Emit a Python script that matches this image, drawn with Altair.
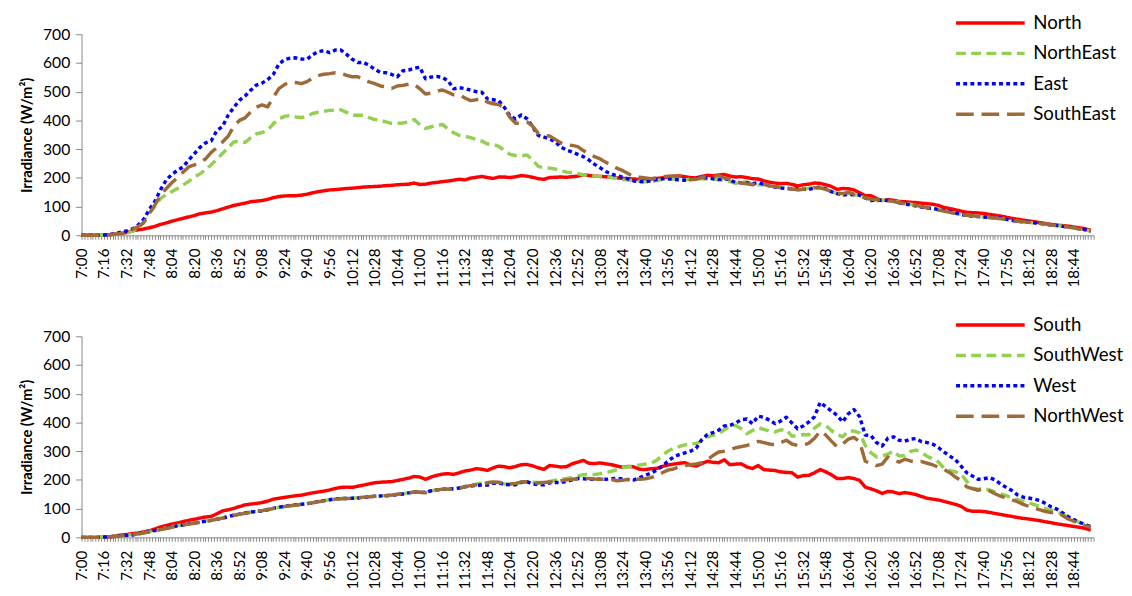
import altair as alt
import pandas as pd

# sample times: minutes after 7:00, every 4 minutes (7:00 ... 18:56)
minutes = list(range(0, 720, 4))

# ---------- top panel ----------
north = [0,0,0,0,1,2,4,6,10,15,19,22,26,31,38,
         43,49,54,59,64,69,75,78,81,86,92,98,104,108,112,
         117,119,121,125,131,135,137,138,138,140,143,148,152,155,158,
         159,161,163,164,166,168,169,170,171,173,174,176,177,178,182,
         177,178,182,184,187,189,192,195,193,199,202,205,201,198,203,
         203,201,204,208,206,202,197,195,201,202,203,202,204,206,211,
         208,206,205,204,202,200,198,197,196,195,196,196,198,200,203,
         205,207,204,201,200,205,209,207,210,212,206,203,204,201,197,
         196,190,185,182,180,181,177,172,176,178,182,181,176,170,160,
         163,162,158,148,138,138,128,121,124,122,118,117,115,114,112,
         110,108,104,97,93,89,84,80,79,78,76,73,70,67,63,
         59,56,53,50,47,44,41,38,35,34,32,29,26,23,17]

north_east = [0,0,0,0,1,2,3,5,8,14,25,45,78,100,128,
              142,152,163,175,188,202,214,228,246,265,285,305,325,328,323,
              340,353,358,365,388,405,414,417,412,410,415,424,429,432,435,
              436,437,428,418,418,418,410,403,400,395,390,390,391,395,403,
              385,372,378,383,386,370,357,348,345,340,334,328,318,317,310,
              295,282,278,276,280,262,240,235,234,231,225,220,218,215,211,
              207,206,205,204,202,198,194,192,190,188,186,188,191,194,196,
              197,195,193,196,197,197,196,195,194,190,187,181,184,186,178,
              175,177,175,170,167,164,161,160,162,164,167,166,160,152,146,
              145,146,142,136,130,125,119,123,122,119,115,111,108,104,100,
              96,92,88,85,80,76,73,70,68,66,64,62,60,58,55,
              52,49,47,45,43,41,39,36,34,32,29,26,22,19,15]

east = [0,0,0,0,1,3,6,11,15,22,35,55,89,118,158,
        192,212,226,238,262,284,306,322,329,365,379,418,445,470,485,
        505,523,530,542,560,596,612,617,618,614,613,629,640,643,636,
        645,645,630,613,602,602,592,578,567,566,560,552,573,575,582,
        585,545,551,553,550,538,510,514,511,505,500,498,475,472,468,
        445,415,405,419,406,378,348,342,336,326,307,297,290,282,274,
        262,247,235,222,213,207,202,196,189,187,186,190,194,197,197,
        195,193,192,195,198,200,200,197,194,198,192,184,183,182,180,
        183,178,172,168,165,163,162,161,160,160,165,168,162,152,145,
        140,142,141,140,130,121,122,122,121,119,113,109,106,102,98,
        95,93,90,86,82,78,72,69,67,65,64,62,61,60,56,
        52,49,47,46,44,42,39,36,34,31,29,26,23,19,15]

south_east = [0,0,0,0,1,2,4,6,12,20,30,43,75,105,140,
              162,183,200,220,238,245,255,266,289,305,325,345,380,400,409,
              430,446,454,447,480,511,525,533,532,528,535,548,556,561,563,
              566,565,557,552,552,543,534,528,520,517,511,520,522,526,526,
              510,492,495,502,506,498,489,490,478,469,472,477,464,458,455,
              443,410,390,390,395,380,355,348,346,334,322,315,313,309,295,
              283,274,266,254,243,233,225,214,204,202,200,197,200,203,206,
              207,206,200,193,195,202,203,204,208,200,195,190,182,179,176,
              180,178,172,170,166,164,161,158,160,162,166,165,160,153,147,
              145,150,143,138,130,126,124,122,120,118,113,110,107,104,100,
              96,93,88,84,80,76,72,70,68,66,64,62,60,58,55,
              52,49,47,45,43,41,39,36,34,31,29,26,22,19,15]

# ---------- bottom panel ----------
south = [0,0,0,0,1,2,5,8,10,13,15,19,23,29,36,
         41,46,50,55,59,63,67,71,73,82,92,96,101,107,113,
         116,118,121,126,133,136,139,142,145,147,151,155,158,161,165,
         170,174,175,174,178,182,186,190,192,193,194,198,202,206,212,
         210,202,210,216,220,222,219,225,231,234,239,237,233,242,248,
         246,242,247,253,254,249,242,237,250,248,245,246,256,262,268,
         258,257,259,256,253,248,244,247,245,237,236,239,240,247,252,
         255,258,260,252,248,257,265,261,260,270,253,255,256,245,240,
         250,236,234,233,228,226,225,210,215,216,225,236,228,218,205,
         205,208,205,198,175,169,162,153,160,158,152,156,153,149,142,
         136,133,130,125,120,115,108,95,91,91,90,87,83,80,76,
         73,69,66,64,61,58,54,51,47,44,41,38,35,31,25]

south_west = [0,0,0,0,1,2,4,6,8,9,12,16,20,24,28,
              33,37,41,44,48,51,54,57,60,64,68,73,77,81,85,
              88,91,93,97,101,105,108,111,113,116,118,121,125,128,131,
              134,135,136,137,138,140,142,143,145,146,148,150,152,155,159,
              157,157,162,166,168,168,170,173,177,181,185,190,191,191,189,
              186,185,187,191,193,192,191,191,195,199,202,205,209,214,218,
              219,219,222,226,230,236,243,246,249,252,255,258,268,285,300,
              310,316,322,325,327,336,350,355,359,375,386,390,378,361,372,
              382,376,370,367,374,375,352,355,358,357,380,395,390,372,358,
              350,370,370,364,320,295,280,283,290,300,283,285,299,304,295,
              282,273,262,240,232,228,220,195,170,168,170,165,158,151,145,
              138,131,126,120,114,106,100,95,89,80,70,60,52,45,38]

west = [0,0,0,0,1,2,4,6,7,8,12,16,20,24,28,
        32,36,40,43,47,50,53,56,59,63,67,72,77,81,85,
        88,90,92,96,101,105,108,111,113,115,117,120,125,128,131,
        134,135,135,136,137,139,141,143,144,145,147,148,151,155,158,
        156,157,162,165,168,168,169,172,176,179,181,182,182,188,190,
        184,183,183,192,194,186,183,183,190,191,191,195,200,205,204,
        202,202,202,202,204,206,203,201,200,208,216,224,234,248,265,
        280,288,294,300,310,340,358,365,373,388,390,398,410,412,396,
        422,418,408,396,405,418,398,378,388,402,420,470,455,440,425,
        402,430,445,420,356,355,330,318,345,350,338,335,342,344,333,
        330,324,312,297,283,270,248,225,214,202,204,208,200,186,174,
        163,148,140,137,133,128,118,106,98,85,72,62,52,45,36]

north_west = [0,0,0,0,1,2,3,5,7,9,12,15,19,23,27,
              31,35,39,43,46,49,52,55,59,63,67,72,76,80,84,
              87,90,93,96,100,104,107,110,112,114,117,120,124,127,130,
              133,134,135,136,138,140,141,143,144,145,147,150,152,155,158,
              157,155,160,165,168,168,167,170,176,180,183,185,190,193,192,
              188,186,188,193,194,191,189,191,193,194,197,200,202,203,204,
              205,203,202,202,201,197,199,202,203,202,204,208,215,225,234,
              238,246,250,253,256,260,270,285,297,300,305,312,316,320,327,
              334,330,325,322,330,338,325,320,321,328,345,370,356,335,315,
              325,342,348,333,265,258,250,255,280,270,262,272,266,262,264,
              258,252,244,236,225,210,197,176,170,164,170,162,152,143,138,
              131,124,115,108,102,96,90,86,88,76,64,56,48,41,35]

top_names = ["North", "NorthEast", "East", "SouthEast"]
bottom_names = ["South", "SouthWest", "West", "NorthWest"]
colors = ["#FF0000", "#92D050", "#0000FF", "#9E6A38"]
dashes = [[1, 0], [10, 5.5], [4, 3.3], [18, 8]]
widths = [3.5, 3.5, 4, 3.5]

FONT = "Lato"
label_expr = ("datum.value % 16 == 0 ? (7 + floor(datum.value / 60)) + ':' + "
              "(datum.value % 60 < 10 ? '0' : '') + (datum.value % 60) : ''")


def panel(names, series, legend_y):
    rows = []
    for name, vals in zip(names, series):
        for m, v in zip(minutes, vals):
            rows.append({"m": m, "v": v, "s": name})
    df = pd.DataFrame(rows)
    leg = alt.Legend(title=None, orient="none", legendX=890, legendY=legend_y,
                     symbolType="M-1,0L7,0", symbolSize=306, symbolStrokeWidth=4,
                     labelFontSize=19, labelFont=FONT, labelColor="#000000",
                     rowPadding=10, labelOffset=59.5, padding=0)
    return alt.Chart(df).mark_line(strokeCap="butt", strokeJoin="round").encode(
        x=alt.X("m:Q", scale=alt.Scale(domain=[0, 718], nice=False, zero=False),
                axis=alt.Axis(values=list(range(0, 719, 2)), labelExpr=label_expr,
                              labelAngle=270, labelOverlap=False, tickSize=4,
                              title=None, grid=False, labelFontSize=15.5,
                              labelFont=FONT, labelColor="#000000", labelPadding=9,
                              domainColor="#868686", tickColor="#868686")),
        y=alt.Y("v:Q", scale=alt.Scale(domain=[0, 700], nice=False),
                axis=alt.Axis(values=list(range(0, 701, 100)), title="Irradiance (W/m²)",
                              grid=False, tickSize=6, labelPadding=6, labelFontSize=16,
                              labelFont=FONT, labelColor="#000000", titleFont=FONT,
                              titleFontSize=15, titleFontWeight="bold",
                              titleColor="#000000", titlePadding=8,
                              domainColor="#868686", tickColor="#868686")),
        color=alt.Color("s:N", scale=alt.Scale(domain=names, range=colors), legend=leg),
        strokeDash=alt.StrokeDash("s:N", scale=alt.Scale(domain=names, range=dashes), legend=leg),
        strokeWidth=alt.StrokeWidth("s:O", scale=alt.Scale(domain=names, range=widths), legend=None),
    ).properties(width=1032, height=205)


top = panel(top_names, [north, north_east, east, south_east], -22)
bottom = panel(bottom_names, [south, south_west, west, north_west], -22)

chart = alt.vconcat(top, bottom, spacing=103, bounds="flush").resolve_scale(
    color="independent", strokeDash="independent", strokeWidth="independent"
).properties(
    padding={"left": 12, "top": -1, "right": 0, "bottom": 0}
).configure_view(stroke=None)

chart.save("out.html", embed_options={"renderer": "svg", "actions": False})
